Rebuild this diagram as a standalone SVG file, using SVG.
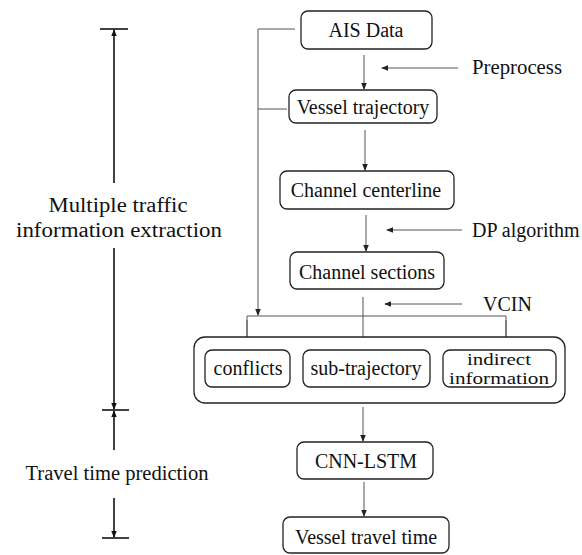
<svg xmlns="http://www.w3.org/2000/svg" width="582" height="555" viewBox="0 0 582 555">
<defs>
<style>
.box{fill:#fff;stroke:#222;stroke-width:1.3}
text{font-family:"Liberation Serif","DejaVu Serif","Times New Roman",serif;font-size:20px;fill:#111}
.t{text-anchor:middle;dominant-baseline:central}
.tl{dominant-baseline:central}
.s{font-size:16.5px}
.c{fill:none;stroke:#555;stroke-width:1}
.k{fill:none;stroke:#111;stroke-width:1.6}
</style>
<marker id="a" viewBox="0 0 8 8" refX="7" refY="4" markerWidth="7" markerHeight="7" markerUnits="userSpaceOnUse" orient="auto"><path d="M0,0.8 L8,4 L0,7.2 Z" fill="#222"/></marker>
<marker id="b" viewBox="0 0 8 8" refX="7" refY="4" markerWidth="7" markerHeight="7" markerUnits="userSpaceOnUse" orient="auto"><path d="M0,0.8 L8,4 L0,7.2 Z" fill="#111"/></marker>
</defs>
<rect width="582" height="555" fill="#fff"/>

<g id="connectors">
<line class="c" x1="364" y1="55" x2="364" y2="89" marker-end="url(#a)"/>
<line class="c" x1="458" y1="68" x2="382" y2="68" marker-end="url(#a)"/>
<line class="c" x1="365" y1="130" x2="365" y2="170" marker-end="url(#a)"/>
<line class="c" x1="366" y1="215" x2="366" y2="251" marker-end="url(#a)"/>
<line class="c" x1="462" y1="230" x2="387" y2="230" marker-end="url(#a)"/>
<polyline class="c" points="295,29 258,29 258,315" marker-end="url(#a)"/>
<line class="c" x1="258" y1="109" x2="287" y2="109"/>
<polyline class="c" points="247,348 247,316 506,316 506,348"/>
<line class="c" x1="247" y1="320" x2="247" y2="349" marker-end="url(#a)"/>
<line class="c" x1="506" y1="320" x2="506" y2="349" marker-end="url(#a)"/>
<line class="c" x1="363" y1="297" x2="363" y2="349" marker-end="url(#a)"/>
<line class="c" x1="462" y1="304" x2="385" y2="304" marker-end="url(#a)"/>
<line class="c" x1="363" y1="407" x2="363" y2="441" marker-end="url(#a)"/>
<line class="c" x1="364" y1="482" x2="364" y2="516" marker-end="url(#a)"/>
<line class="k" x1="100" y1="29" x2="128" y2="29"/>
<line class="k" x1="114" y1="183" x2="114" y2="30" marker-end="url(#b)"/>
<line class="k" x1="114" y1="248" x2="114" y2="409" marker-end="url(#b)"/>
<line class="k" x1="102" y1="410" x2="129" y2="410"/>
<line class="k" x1="114" y1="450" x2="114" y2="411" marker-end="url(#b)"/>
<line class="k" x1="114" y1="498" x2="114" y2="537" marker-end="url(#b)"/>
<line class="k" x1="102" y1="538" x2="129" y2="538"/>
</g>

<g id="labels">
<text class="tl" x="472" y="67" textLength="90" lengthAdjust="spacingAndGlyphs">Preprocess</text>
<text class="tl" x="472" y="230">DP algorithm</text>
<text class="tl" x="483" y="304">VCIN</text>
<text class="t" x="118" y="205" textLength="139" lengthAdjust="spacingAndGlyphs">Multiple traffic</text>
<text class="t" x="119" y="230" textLength="206" lengthAdjust="spacingAndGlyphs">information extraction</text>
<text class="t" x="117" y="473" textLength="183" lengthAdjust="spacingAndGlyphs">Travel time prediction</text>
</g>

<g id="ais"><rect class="box" x="301" y="11" width="131" height="38" rx="7"/><text class="t" x="366" y="30">AIS Data</text></g>
<g id="vessel-trajectory"><rect class="box" x="289" y="90" width="148" height="33" rx="7"/><text class="t" x="363" y="107">Vessel trajectory</text></g>
<g id="channel-centerline"><rect class="box" x="280" y="171" width="174" height="38" rx="7"/><text class="t" x="366" y="190">Channel centerline</text></g>
<g id="channel-sections"><rect class="box" x="290" y="252" width="154" height="37" rx="7"/><text class="t" x="367" y="272">Channel sections</text></g>
<g id="features"><rect class="box" x="194" y="337" width="371" height="66" rx="11"/></g>
<g id="conflicts"><rect class="box" x="205" y="350" width="85" height="37" rx="7"/><text class="t" x="248" y="368">conflicts</text></g>
<g id="sub-trajectory"><rect class="box" x="303" y="350" width="127" height="37" rx="7"/><text class="t" x="366" y="368">sub-trajectory</text></g>
<g id="indirect-information"><rect class="box" x="443" y="350" width="113" height="37" rx="7"/><text class="t s" x="499" y="359" textLength="64" lengthAdjust="spacingAndGlyphs">indirect</text><text class="t s" x="499" y="378" textLength="100" lengthAdjust="spacingAndGlyphs">information</text></g>
<g id="cnn-lstm"><rect class="box" x="297" y="442" width="136" height="37" rx="7"/><text class="t" x="366" y="461">CNN-LSTM</text></g>
<g id="vessel-travel-time"><rect class="box" x="283" y="517" width="166" height="36" rx="7"/><text class="t" x="366" y="537">Vessel travel time</text></g>
</svg>
